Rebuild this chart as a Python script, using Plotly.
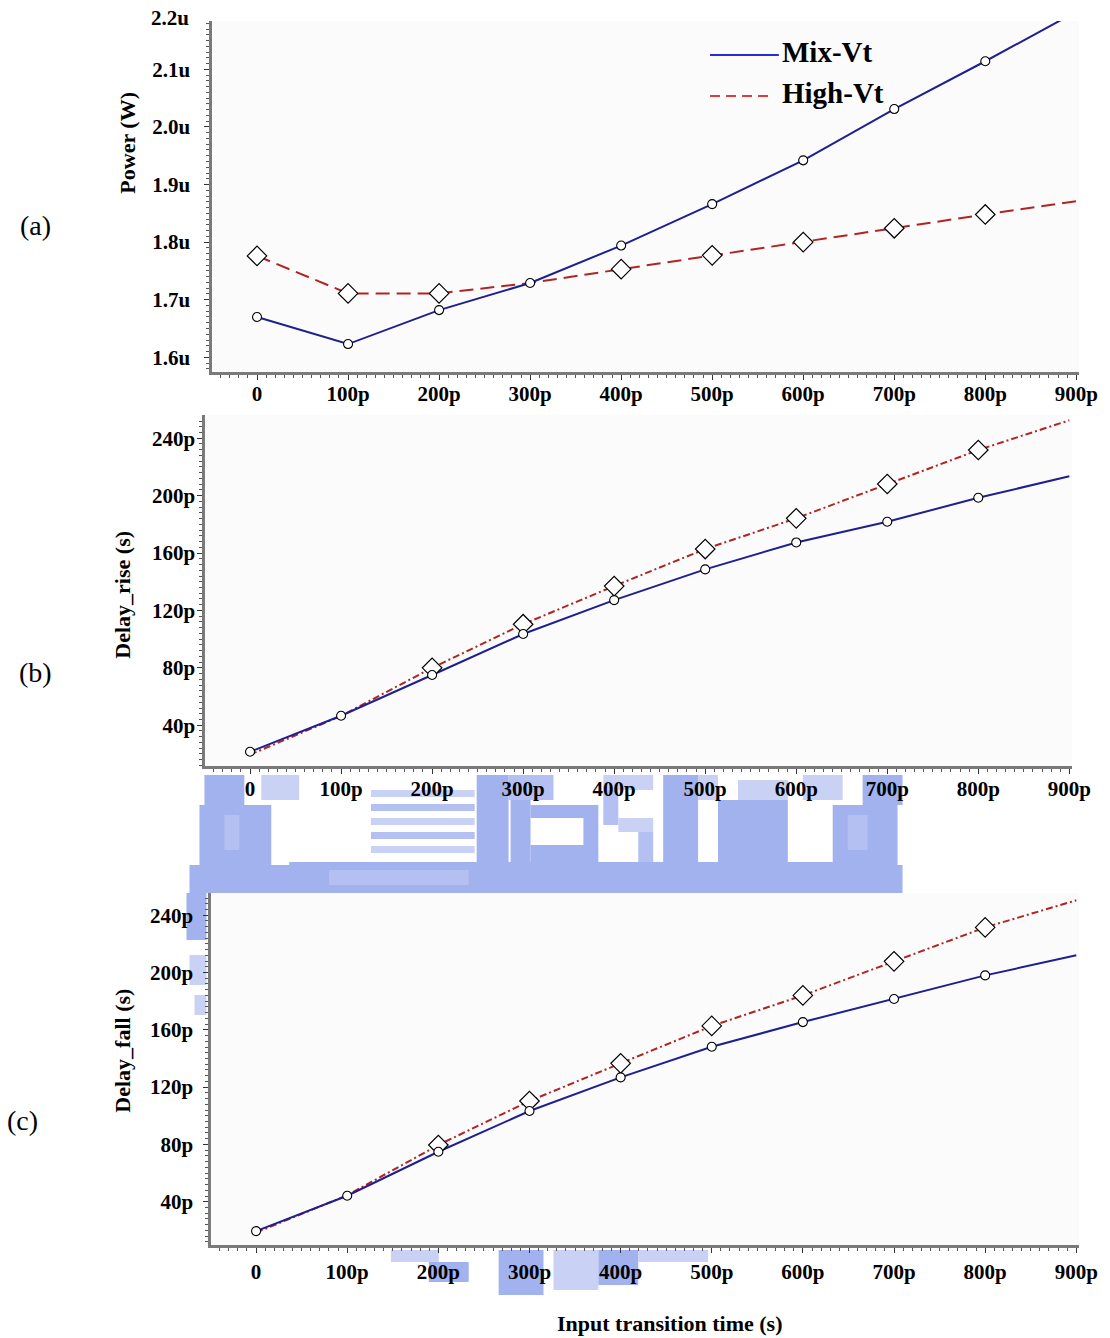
import plotly.graph_objects as go

# Input transition time (ps)
transition_ps = [0, 100, 200, 300, 400, 500, 600, 700, 800, 900]

# (a) Power in uW
power_mix_vt = [1.670, 1.623, 1.682, 1.729, 1.794, 1.866, 1.942, 2.031, 2.114, 2.200]
power_high_vt = [1.776, 1.711, 1.711, 1.729, 1.753, 1.777, 1.800, 1.824, 1.848, 1.871]

# (b) Rise delay in ps
rise_mix_vt = [21.5, 46.6, 75.0, 103.6, 127.2, 148.6, 167.4, 181.8, 198.5, 213.5]
rise_high_vt = [19.5, 46.5, 80.0, 110.4, 137.0, 162.8, 184.2, 208.1, 231.8, 252.5]

# (c) Fall delay in ps
fall_mix_vt = [19.5, 44.2, 74.9, 103.3, 126.8, 148.2, 165.4, 181.5, 198.0, 212.0]
fall_high_vt = [18.5, 44.5, 79.6, 110.3, 136.6, 162.7, 184.0, 207.8, 231.5, 250.4]

x_tick_vals = [0, 100, 200, 300, 400, 500, 600, 700, 800, 900]
x_tick_text = ["0", "100p", "200p", "300p", "400p", "500p", "600p", "700p", "800p", "900p"]
power_tick_vals = [1.6, 1.7, 1.8, 1.9, 2.0, 2.1]
power_tick_text = ["1.6u", "1.7u", "1.8u", "1.9u", "2.0u", "2.1u"]
delay_tick_vals = [40, 80, 120, 160, 200, 240]
delay_tick_text = ["40p", "80p", "120p", "160p", "200p", "240p"]

W, H = 1110, 1338
W_VIEW = 1094  # width the page actually lays the figure out at
FONT = "Liberation Serif"
MIX_COLOR = "#1f1f8f"
HIGH_COLOR = "#b02424"
MARK_BLUE = "#a2b2ee"
MARK_MID = "#b3c0f1"
MARK_LIGHT = "#c9d2f5"


def px(x):
    return x / W_VIEW


def py(y):
    return 1 - y / H


fig = go.Figure()

# panel: (axis suffix, mix, high, high dash, x values without a diamond,
#         x pixel span, y pixel span, y range)
panels = [
    ("", power_mix_vt, power_high_vt, "14px,7px", {300},
     (213, 1082), (21, 372), [1.5745, 2.1839]),
    ("2", rise_mix_vt, rise_high_vt, "7px,3px,2px,3px", {0, 100},
     (206, 1075), (415, 766), [11.6, 256.2]),
    ("3", fall_mix_vt, fall_high_vt, "7px,3px,2px,3px", {0, 100},
     (212, 1082), (893, 1245), [9.8, 255.5]),
]

for suffix, mix, high, dash, hidden, _, _, _ in panels:
    xa, ya = "x" + suffix, "y" + suffix
    fig.add_trace(go.Scatter(x=transition_ps, y=high, mode="lines", xaxis=xa, yaxis=ya,
                             line=dict(color=HIGH_COLOR, width=2, dash=dash),
                             showlegend=False, hoverinfo="skip"))
    fig.add_trace(go.Scatter(x=transition_ps, y=mix, mode="lines", xaxis=xa, yaxis=ya,
                             line=dict(color=MIX_COLOR, width=2),
                             showlegend=False, hoverinfo="skip"))
    dx = [t for t in transition_ps[:-1] if t not in hidden]
    dy = [v for t, v in zip(transition_ps[:-1], high[:-1]) if t not in hidden]
    fig.add_trace(go.Scatter(x=dx, y=dy, mode="markers", xaxis=xa, yaxis=ya,
                             marker=dict(symbol="diamond", size=15, color="white",
                                         line=dict(color="black", width=1.2)),
                             showlegend=False, cliponaxis=False))
    fig.add_trace(go.Scatter(x=transition_ps[:-1], y=mix[:-1], mode="markers",
                             xaxis=xa, yaxis=ya,
                             marker=dict(symbol="circle", size=9, color="white",
                                         line=dict(color="black", width=1.1)),
                             showlegend=False, cliponaxis=False))

tick_font = dict(family=FONT, size=21, color="black", weight="bold")
layout = dict(width=W, height=H, autosize=False, margin=dict(l=0, r=0, t=0, b=0, pad=0),
              paper_bgcolor="white", plot_bgcolor="#fbfbfb", showlegend=False)

for i, (suffix, mix, high, dash, hidden, xd, yd, yr) in enumerate(panels):
    xname, yname = "xaxis" + suffix, "yaxis" + suffix
    standoff_y = [10, -2, 6][i]
    standoff_x = [-4, -3, 1][i]
    layout[xname] = dict(
        domain=[px(xd[0]), px(xd[1])], anchor="y" + suffix, range=[-49, 903],
        tickmode="array", tickvals=x_tick_vals, ticktext=x_tick_text,
        ticks="outside", ticklen=5, tickcolor="#333", tickwidth=1,
        minor=dict(tickmode="array", tickvals=list(range(-40, 901, 10)),
                   ticks="outside", ticklen=3, tickcolor="#555", showgrid=False),
        showline=True, linecolor="#7a7a7a", linewidth=3, showgrid=False,
        zeroline=False, tickfont=tick_font, ticklabelstandoff=standoff_x,
        ticklabeloverflow="allow",
    )
    if i == 0:
        yvals, ytext = power_tick_vals, power_tick_text
        minor_vals = [round(1.58 + 0.01 * k, 2) for k in range(61)]
    else:
        yvals, ytext = delay_tick_vals, delay_tick_text
        minor_vals = list(range(12, 256, 4))
    layout[yname] = dict(
        domain=[py(yd[1]), py(yd[0])], anchor="x" + suffix, range=yr,
        tickmode="array", tickvals=yvals, ticktext=ytext,
        ticks="outside", ticklen=5, tickcolor="#333", tickwidth=1,
        minor=dict(tickmode="array", tickvals=minor_vals,
                   ticks="outside", ticklen=3, tickcolor="#555", showgrid=False),
        showline=True, linecolor="#7a7a7a", linewidth=3, showgrid=False,
        zeroline=False, tickfont=tick_font, ticklabelstandoff=standoff_y,
    )

fig.update_layout(**layout)

title_font = dict(family=FONT, size=22, color="black", weight="bold")
annotations = [
    # the top power tick label sits just inside the figure edge
    dict(x=px(192), y=py(18), text="2.2u", xanchor="right", yanchor="middle",
         font=tick_font),
    dict(x=px(127), y=py(143), text="Power (W)", textangle=-90, font=title_font),
    dict(x=px(122), y=py(595), text="Delay_rise (s)", textangle=-90, font=title_font),
    dict(x=px(122), y=py(1051), text="Delay_fall (s)", textangle=-90, font=title_font),
    dict(x=px(672), y=py(1323), text="Input transition time (s)", font=title_font),
    dict(x=px(36), y=py(225), text="(a)", font=dict(family=FONT, size=28, color="black")),
    dict(x=px(36), y=py(672), text="(b)", font=dict(family=FONT, size=28, color="black")),
    dict(x=px(23), y=py(1120), text="(c)", font=dict(family=FONT, size=28, color="black")),
    dict(x=px(782), y=py(52), text="Mix-Vt", xanchor="left",
         font=dict(family=FONT, size=29, color="black", weight="bold")),
    dict(x=px(782), y=py(93), text="High-Vt", xanchor="left",
         font=dict(family=FONT, size=29, color="black", weight="bold")),
]
for a in annotations:
    a.update(xref="paper", yref="paper", showarrow=False)
    a.setdefault("xanchor", "center")
    a.setdefault("yanchor", "middle")

shapes = [
    dict(type="line", x0=px(712), x1=px(781), y0=py(55), y1=py(55),
         line=dict(color="#2a2ad8", width=2)),
    dict(type="line", x0=px(712), x1=px(776), y0=py(96), y1=py(96),
         line=dict(color="#e03a3a", width=2, dash="10px,6px")),
]
for s in shapes:
    s.update(xref="paper", yref="paper")

# pale blue emblem printed behind the lower panels
emblem_blocks = [
    # left figure
    (205, 775, 245, 805, MARK_BLUE), (262, 775, 300, 800, MARK_LIGHT),
    (200, 805, 272, 865, MARK_BLUE), (225, 815, 240, 850, MARK_MID),
    (190, 865, 300, 893, MARK_BLUE),
    # striped building
    (372, 790, 476, 797, MARK_LIGHT), (372, 804, 476, 811, MARK_MID),
    (372, 818, 476, 825, MARK_LIGHT), (372, 832, 476, 839, MARK_MID),
    (372, 846, 476, 853, MARK_LIGHT),
    # pillar and letters
    (478, 775, 510, 893, MARK_BLUE), (510, 775, 555, 800, MARK_MID),
    (512, 800, 532, 862, MARK_BLUE), (532, 805, 600, 818, MARK_BLUE),
    (532, 845, 600, 862, MARK_BLUE), (585, 818, 600, 845, MARK_BLUE),
    (605, 775, 655, 790, MARK_LIGHT), (605, 790, 620, 825, MARK_MID),
    (620, 818, 655, 832, MARK_LIGHT), (640, 832, 655, 862, MARK_MID),
    # arrow
    (665, 775, 700, 893, MARK_BLUE), (720, 800, 790, 893, MARK_BLUE),
    (700, 775, 720, 800, MARK_LIGHT), (740, 780, 790, 800, MARK_LIGHT),
    # right figure
    (805, 775, 845, 800, MARK_LIGHT), (865, 775, 905, 805, MARK_BLUE),
    (835, 805, 900, 865, MARK_BLUE), (850, 815, 870, 850, MARK_MID),
    (800, 865, 905, 893, MARK_BLUE),
    # base
    (290, 862, 880, 893, MARK_BLUE), (330, 870, 470, 885, MARK_MID),
    # fragments beside and below the lowest panel
    (187, 893, 207, 940, MARK_BLUE), (190, 955, 207, 985, MARK_LIGHT),
    (195, 995, 207, 1015, MARK_LIGHT),
    (392, 1250, 440, 1262, MARK_LIGHT), (430, 1262, 470, 1282, MARK_BLUE),
    (500, 1250, 545, 1295, MARK_BLUE), (555, 1250, 600, 1290, MARK_LIGHT),
    (600, 1250, 640, 1285, MARK_BLUE), (640, 1250, 710, 1262, MARK_LIGHT),
]
for x0, y0, x1, y1, col in emblem_blocks:
    shapes.append(dict(type="rect", xref="paper", yref="paper", layer="below",
                       x0=px(x0), x1=px(x1), y0=py(y1), y1=py(y0),
                       fillcolor=col, line=dict(width=0)))

fig.update_layout(annotations=annotations, shapes=shapes)
fig.write_html("out.html", config={"responsive": False})
